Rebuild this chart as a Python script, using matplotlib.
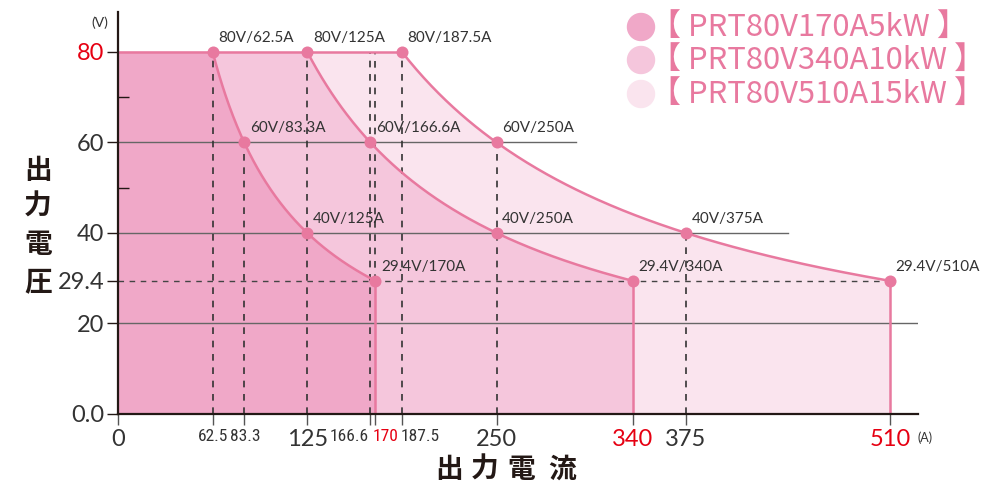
import numpy as np
import matplotlib
matplotlib.use("Agg")
import matplotlib.pyplot as plt
from matplotlib.transforms import blended_transform_factory, ScaledTranslation

# ---------------- data ----------------
models = ["PRT80V170A5kW", "PRT80V340A10kW", "PRT80V510A15kW"]
power_w = [5000, 10000, 15000]
pt_volts = [80, 60, 40, 29.4]
pt_amps_5k = [62.5, 83.3, 125, 170]
pt_amps_10k = [125, 166.6, 250, 340]
pt_amps_15k = [187.5, 250, 375, 510]
pt_amps = [pt_amps_5k, pt_amps_10k, pt_amps_15k]
pt_labels_5k = ["80V/62.5A", "60V/83.3A", "40V/125A", "29.4V/170A"]
pt_labels_10k = ["80V/125A", "60V/166.6A", "40V/250A", "29.4V/340A"]
pt_labels_15k = ["80V/187.5A", "60V/250A", "40V/375A", "29.4V/510A"]
pt_labels = [pt_labels_5k, pt_labels_10k, pt_labels_15k]

x_ticks = [0, 62.5, 83.3, 125, 166.6, 170, 187.5, 250, 340, 375, 510]
x_ticklabels = ["0", "62.5", "83.3", "125", "166.6", "170", "187.5", "250", "340", "375", "510"]
x_red = ["170", "340", "510"]
x_narrow = ["62.5", "83.3", "166.6", "170", "187.5"]
y_ticks = [0, 20, 29.4, 40, 60, 80]
y_ticklabels = ["0.0", "20", "29.4", "40", "60", "80"]
y_minor = [50, 70]

guide_x = [62.5, 83.3, 125, 166.6, 170, 187.5, 250, 375]
guide_top = [80, 60, 80, 80, 80, 80, 60, 40]
guide_bottom = [0, 0, 0, 0, 29.4, 0, 0, 0]
hgrid_y = [60, 40, 20]
hgrid_end = [302.5, 442.5, 528.4]

fills = ["#f0a8c8", "#f5c6dc", "#fae4ee"]
edge = "#e8799f"
red = "#e60012"
txt = "#333333"
num_font = ["Lato", "DejaVu Sans"]
narrow_font = ["Roboto Condensed", "Lato", "DejaVu Sans"]
jp = ["Noto Sans CJK JP", "DejaVu Sans"]

# ---------------- figure ----------------
fig = plt.figure(figsize=(10, 5), dpi=100)
ax = fig.add_axes([0.118, 0.172, 0.800, 0.804])
xmax, ymax = 528.4, 88.8
ax.set_xlim(0, xmax)
ax.set_ylim(0, ymax)


def envelope(k):
    P = power_w[k]
    amps = pt_amps[k]
    ic = np.linspace(amps[0], amps[-1], 200)
    vc = P / ic
    vc[-1] = pt_volts[-1]
    return ic, vc


# regions (largest first)
for k in [2, 1, 0]:
    ic, vc = envelope(k)
    imax = pt_amps[k][-1]
    xs = np.concatenate([[0, 0], ic, [imax, imax]])
    ys = np.concatenate([[0, pt_volts[0]], vc, [pt_volts[-1], 0]])
    ax.fill(xs, ys, color=fills[k], lw=0, zorder=1 + (2 - k) * 0.1)

# horizontal grid
for y, xe in zip(hgrid_y, hgrid_end):
    ax.plot([0, xe], [y, y], color="#666666", lw=1.0, zorder=3)
ax.plot([0, pt_amps_15k[-1]], [29.4, 29.4], color="#444444", lw=1.0,
        dashes=(4, 4), zorder=3)

# vertical guides
for gx, gb, gt in zip(guide_x, guide_bottom, guide_top):
    ax.plot([gx, gx], [gb, gt], color="#333333", lw=1.2, dashes=(4, 4), zorder=3)

# edges
for k in range(3):
    ic, vc = envelope(k)
    imax = pt_amps[k][-1]
    ax.plot(ic, vc, color=edge, lw=1.8, zorder=4)
    ax.plot([imax, imax], [0, pt_volts[-1]], color=edge, lw=1.8, zorder=4)
ax.plot([0, pt_amps_15k[0]], [80, 80], color=edge, lw=1.8, zorder=4)

# points + labels
for k in range(3):
    ax.scatter(pt_amps[k], pt_volts, s=75, color=edge, zorder=5, lw=0)
    for a, v, lab in zip(pt_amps[k], pt_volts, pt_labels[k]):
        ax.annotate(lab, (a, v), xytext=(4, 5), textcoords="offset points",
                    fontsize=11, color=txt, ha="left", va="bottom", zorder=6,
                    family=num_font)

# spines
for s in ["top", "right"]:
    ax.spines[s].set_visible(False)
for s in ["left", "bottom"]:
    ax.spines[s].set_linewidth(1.6)
    ax.spines[s].set_color("#231815")
    ax.spines[s].set_zorder(7)

# ticks
ax.set_xticks(x_ticks)
ax.set_xticklabels([("" if l in x_narrow else l) for l in x_ticklabels])
ax.set_yticks(y_ticks)
ax.set_yticklabels(y_ticklabels)
ax.set_yticks(y_minor, minor=True)
ax.tick_params(axis="x", direction="out", length=8, width=1, color="#555555",
               labelsize=17, labelcolor=txt, pad=3)
ax.tick_params(axis="y", which="major", direction="out", length=8, width=1,
               color="#231815", labelsize=17, labelcolor=txt, pad=2)
ax.tick_params(axis="y", which="minor", direction="in", length=8, width=1,
               color="#231815")
for t in ax.get_xticklabels():
    t.set_family(num_font)
    if t.get_text() in x_red:
        t.set_color(red)
for t in ax.get_yticklabels():
    t.set_family(num_font)
    if t.get_text() == "80":
        t.set_color(red)

# condensed x tick labels placed by hand around their ticks
trans = blended_transform_factory(ax.transData, ax.transAxes)
narrow_place = {"62.5": ("center", 0), "83.3": ("center", 1),
                "166.6": ("right", -1), "170": ("left", -3),
                "187.5": ("left", -1)}
for xv, lab in zip(x_ticks, x_ticklabels):
    if lab in x_narrow:
        ha, dx = narrow_place[lab]
        tr = trans + ScaledTranslation(dx / 100, -15 / 100, fig.dpi_scale_trans)
        ax.text(xv, 0, lab, transform=tr, ha=ha, va="top", fontsize=12.5,
                family=narrow_font, color=(red if lab in x_red else txt),
                clip_on=False)

# unit labels
fig.text(0.100, 0.955, "(V)", fontsize=10, color=txt, ha="center", va="center",
         family=num_font)
fig.text(0.925, 0.124, "(A)", fontsize=9, color=txt, ha="center", va="center",
         family=num_font)

# axis titles (Japanese)
for ch, yc in zip("出力電圧", [171, 207, 245, 283]):
    fig.text(0.038, 1 - yc / 500, ch, fontsize=20, fontweight="bold",
             family=jp, color="#231815", ha="center", va="center")
for ch, xc in zip("出力電流", [449, 485, 521, 562]):
    fig.text(xc / 1000, 1 - 470 / 500, ch, fontsize=20, fontweight="bold",
             family=jp, color="#231815", ha="center", va="center")

# legend
leg_y = [27, 60, 94]
for k in range(3):
    yf = 1 - leg_y[k] / 500
    fig.patches.append(matplotlib.patches.Ellipse(
        (0.641, yf), 0.027, 0.054, transform=fig.transFigure,
        color=fills[k], zorder=10))
    fig.text(0.650, yf, "【 " + models[k] + " 】", fontsize=22.3, family=jp,
             color=edge, ha="left", va="center")

fig.savefig("out.png", dpi=100)
